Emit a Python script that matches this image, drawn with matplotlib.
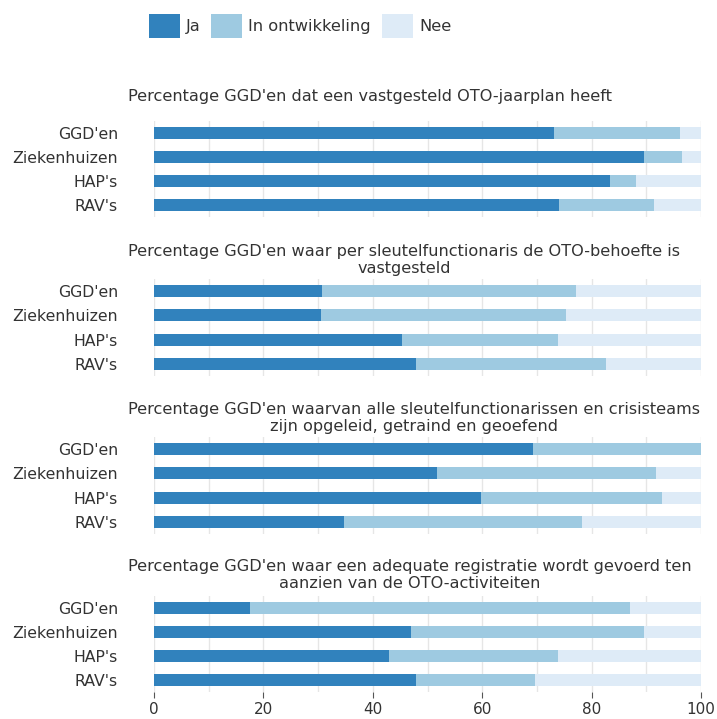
import matplotlib.pyplot as plt

categories = ["GGD'en", "Ziekenhuizen", "HAP's", "RAV's"]
series_names = ["Ja", "In ontwikkeling", "Nee"]

titles = [
    "Percentage GGD'en dat een vastgesteld OTO-jaarplan heeft",
    "Percentage GGD'en waar per sleutelfunctionaris de OTO-behoefte is\nvastgesteld",
    "Percentage GGD'en waarvan alle sleutelfunctionarissen en crisisteams\nzijn opgeleid, getraind en geoefend",
    "Percentage GGD'en waar een adequate registratie wordt gevoerd ten\naanzien van de OTO-activiteiten",
]

ja = [
    [73.1, 89.5, 83.4, 74.0],
    [30.8, 30.6, 45.3, 47.9],
    [69.3, 51.8, 59.7, 34.8],
    [17.5, 47.0, 43.0, 47.9],
]
ontwikkeling = [
    [23.1, 7.0, 4.7, 17.4],
    [46.3, 44.8, 28.6, 34.8],
    [30.7, 40.0, 33.2, 43.5],
    [69.5, 42.5, 30.8, 21.7],
]
nee = [
    [3.8, 3.5, 11.9, 8.6],
    [22.9, 24.6, 26.1, 17.3],
    [0.0, 8.2, 7.1, 21.7],
    [13.0, 10.5, 26.2, 30.4],
]

colors = ["#3182bd", "#9ecae1", "#deebf7"]
text_color = "#333333"

W, H = 717, 719
fig = plt.figure(figsize=(W / 100, H / 100), dpi=100)

# axes placement in pixels (top, bottom) and title centre y
panel_px = [(121, 217), (279, 376), (437, 534), (596, 692)]
title_y = [97, 260, 418, 575]
left_px, right_px = 154, 701

for i in range(4):
    top, bottom = panel_px[i]
    ax = fig.add_axes([left_px / W, 1 - bottom / H, (right_px - left_px) / W, (bottom - top) / H])
    y = range(len(categories))
    lefts = [0] * len(categories)
    for vals, col, name in zip([ja[i], ontwikkeling[i], nee[i]], colors, series_names):
        ax.barh(y, vals, left=lefts, height=0.5, color=col, linewidth=0, label=name)
        lefts = [a + b for a, b in zip(lefts, vals)]
    ax.set_xlim(0, 100)
    ax.set_ylim(3.5, -0.5)
    ax.set_yticks(list(y))
    ax.set_yticklabels(categories, fontsize=11.3, color=text_color)
    ax.set_xticks(range(0, 101, 10), minor=True)
    ax.set_xticks(range(0, 101, 20))
    ax.grid(True, axis="x", which="both", color="#e6e6e6", linewidth=1)
    ax.set_axisbelow(True)
    for s in ax.spines.values():
        s.set_visible(False)
    ax.tick_params(axis="y", length=0, pad=26)
    ax.tick_params(axis="x", which="minor", length=0)
    if i < 3:
        ax.tick_params(axis="x", which="major", length=0, labelbottom=False)
    else:
        ax.tick_params(axis="x", which="major", length=4, color="#555555",
                       labelsize=11, labelcolor=text_color, pad=3)
    fig.text(128 / W, 1 - title_y[i] / H, titles[i], ha="left", va="center",
             multialignment="center", fontsize=11.6, color=text_color, linespacing=1.15)

handles, labels = ax.get_legend_handles_labels()
fig.legend(handles, labels, loc="center", bbox_to_anchor=(300 / W, 1 - 26 / H), ncol=3,
           frameon=False, fontsize=11.7, handlelength=1.9, handleheight=1.9,
           handletextpad=0.37, columnspacing=0.68, labelcolor=text_color)

fig.savefig("out.png", dpi=100)
